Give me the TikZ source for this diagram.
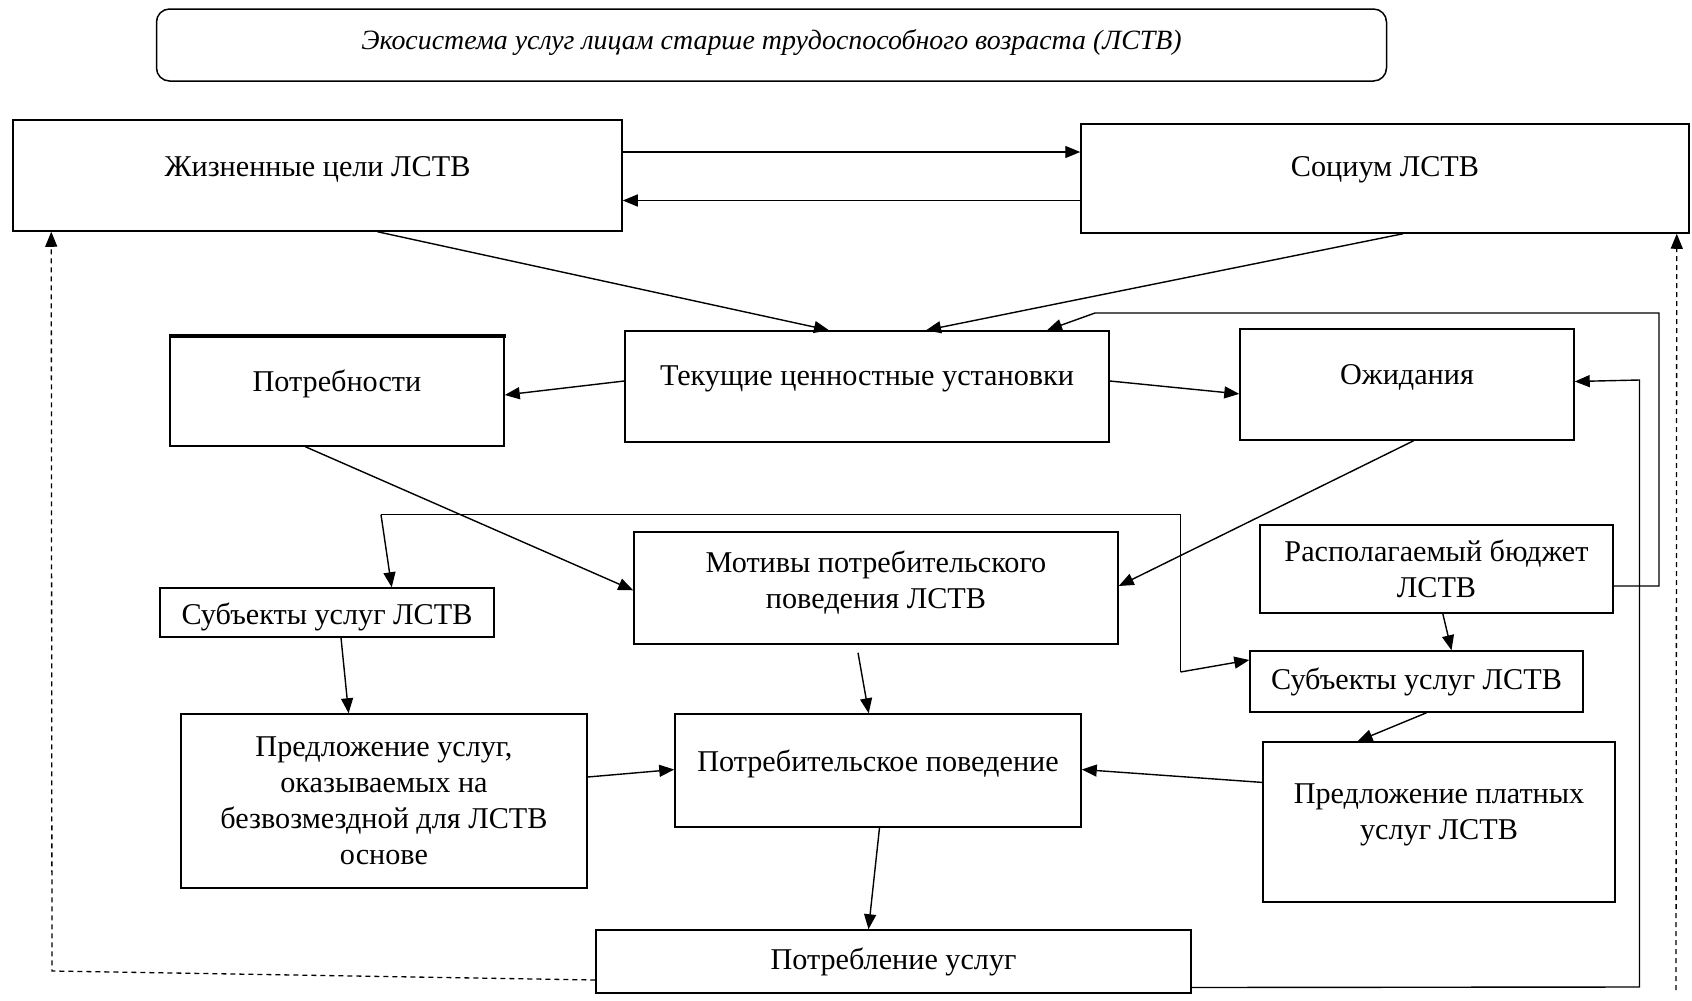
\documentclass[tikz,border=0pt]{standalone}
\usepackage{fontspec}
\setmainfont{Liberation Serif}
\usetikzlibrary{calc,arrows.meta}
\begin{document}
\begin{tikzpicture}[x=1pt,y=-1pt,
  box/.style={draw, line width=1.5pt, inner sep=0pt},
  txt/.style={align=center, font=\fontsize{30.2}{36}\selectfont, inner sep=0pt},
  arr/.style={line width=1.4pt, -{Triangle[length=15pt,width=12pt]}},
  ln/.style={line width=1.4pt},
  dsh/.style={line width=1.3pt, dash pattern=on 5pt off 4pt, -{Triangle[length=15pt,width=12pt]}}]
\useasboundingbox[fill=white] (0,0) rectangle (1692,1001);
% boxes
\node[box, rounded corners=13pt, minimum width=1230pt, minimum height=72pt] (title) at (771.5,45) {};
\node[txt, font=\fontsize{27.9}{32}\selectfont\itshape] (titlet) at ([yshift=2pt]title.center) {Экосистема услуг лицам старше трудоспособного возраста (ЛСТВ)};
\node[box, minimum width=609pt, minimum height=111pt] (zh) at (317.5,175.5) {};
\node[txt] (zht) at ([yshift=6pt]zh.center) {Жизненные цели ЛСТВ};
\node[box, minimum width=608pt, minimum height=109pt] (soc) at (1385,178.5) {};
\node[txt] (soct) at ([yshift=9pt]soc.center) {Социум ЛСТВ};
\node[box, minimum width=334pt, minimum height=111pt] (potr) at (337,390.5) {};
\node[txt] (potrt) at ([yshift=7pt]potr.center) {Потребности};
\draw[line width=4pt] ($(potr.north west)+(-0.75,1.5)$) -- ($(potr.north east)+(0.75,1.5)$);
\node[box, minimum width=484pt, minimum height=111pt] (tek) at (867,386.5) {};
\node[txt] (tekt) at ([yshift=8pt]tek.center) {Текущие ценностные установки};
\node[box, minimum width=334pt, minimum height=111pt] (ozh) at (1407,384.5) {};
\node[txt] (ozht) at ([yshift=7pt]ozh.center) {Ожидания};
\node[box, minimum width=484pt, minimum height=112pt] (mot) at (876,588) {};
\node[txt] (mott) at ([yshift=5pt]mot.center) {Мотивы потребительского\\поведения ЛСТВ};
\node[box, minimum width=334pt, minimum height=49pt] (subjL) at (327,612.5) {};
\node[txt] (subjLt) at ([yshift=-4pt]subjL.center) {Субъекты услуг ЛСТВ};
\node[box, minimum width=353pt, minimum height=88pt] (bud) at (1436.5,569) {};
\node[txt] (budt) at (bud.center) {Располагаемый бюджет\\ЛСТВ};
\node[box, minimum width=333pt, minimum height=61pt] (subjR) at (1416.5,681.5) {};
\node[txt] (subjRt) at (subjR.center) {Субъекты услуг ЛСТВ};
\node[box, minimum width=406pt, minimum height=174pt] (free) at (384,801) {};
\node[txt] (freet) at (free.center) {Предложение услуг,\\оказываемых на\\безвозмездной для ЛСТВ\\основе};
\node[box, minimum width=406pt, minimum height=113pt] (beh) at (878,770.5) {};
\node[txt] (beht) at ([yshift=7pt]beh.center) {Потребительское поведение};
\node[box, minimum width=352pt, minimum height=160pt] (paid) at (1439,822) {};
\node[txt] (paidt) at ([yshift=7pt]paid.center) {Предложение платных\\услуг ЛСТВ};
\node[box, minimum width=595pt, minimum height=63pt] (cons) at (893.5,961.5) {};
\node[txt] (const) at (cons.center) {Потребление услуг};
% helper coordinates
\coordinate (c1) at (1659,313);
\coordinate (c2) at (1095,313);
\coordinate (b1) at (381,514.7);
\coordinate (b2) at (1180.5,514.7);
\coordinate (b3) at (1180.5,672);
\coordinate (d1) at (1639.5,987);
\coordinate (d2) at (1639.5,380);
\coordinate (e1) at (52,971);
\coordinate (f1) at (1676,990);
% connectors
\draw[arr] ($(zh.east)+(0,-23.5)$) -- ($(soc.west)+(0,-26.5)$);
\draw[arr] ($(soc.west)+(0,22)$) -- ($(zh.east)+(0,25)$);
\draw[arr] ($(zh.south)+(60,0)$) -- ($(tek.north)+(-38,0)$);
\draw[arr] ($(soc.south)+(18,0)$) -- ($(tek.north)+(59,0)$);
\draw[arr] ($(bud.east)+(0,17)$) -| (c1) -- (c2) -- ($(tek.north)+(180,0)$);
\draw[arr] ($(tek.west)+(0,-5.5)$) -- ($(potr.east)+(0,4.5)$);
\draw[arr] ($(tek.east)+(0,-5.5)$) -- ($(ozh.west)+(0,9.4)$);
\draw[arr] ($(ozh.south)+(6.6,0)$) -- ($(mot.east)+(0,-2)$);
\draw[arr] ($(potr.south)+(-31.6,0)$) -- ($(mot.west)+(0,2.3)$);
\draw[ln] (b1) -- (b2) -- (b3);
\draw[arr] (b1) -- ($(subjL.north)+(64.7,0)$);
\draw[arr] (b3) -- ($(subjR.west)+(0,-21.5)$);
\draw[arr] ($(mot.south)+(-18,8)$) -- ($(beh.north)+(-9.3,0)$);
\draw[arr] ($(subjL.south)+(14,0)$) -- ($(free.north)+(-35.4,0)$);
\draw[arr] ($(free.east)+(0,-24)$) -- ($(beh.west)+(0,-1)$);
\draw[arr] ($(bud.south)+(6.3,0)$) -- ($(subjR.north)+(35,0)$);
\draw[arr] ($(subjR.south)+(10,0)$) -- ($(paid.north)+(-81.5,0)$);
\draw[arr] ($(paid.west)+(0,-39.6)$) -- ($(beh.east)+(0,-1)$);
\draw[arr] ($(beh.south)+(1.5,0)$) -- ($(cons.north)+(-25,0)$);
\draw[arr] ($(cons.east)+(0,26)$) -- (d1) -- (d2) -- ($(ozh.east)+(0,-3)$);
\draw[dsh] ($(cons.west)+(0,18.5)$) -- (e1) -- ($(zh.south west)+(39,0)$);
\draw[dsh] (f1) -- ($(soc.south east)+(-13,0)$);
\end{tikzpicture}
\end{document}
